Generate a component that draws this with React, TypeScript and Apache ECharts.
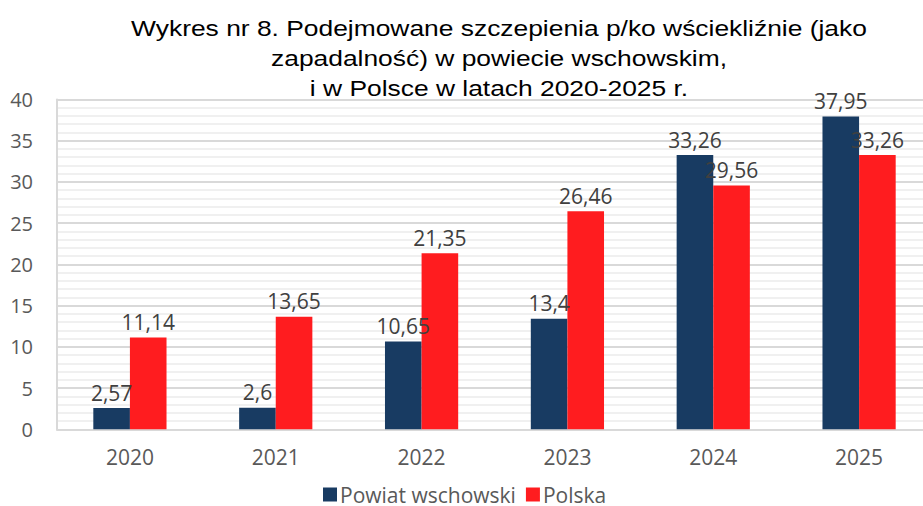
import React, { useEffect, useRef } from "react";
import * as echarts from "echarts";

const categories = ["2020", "2021", "2022", "2023", "2024", "2025"];
const powiatValues = [2.57, 2.6, 10.65, 13.4, 33.26, 37.95];
const polskaValues = [11.14, 13.65, 21.35, 26.46, 29.56, 33.26];
const seriesNames = ["Powiat wschowski", "Polska"];
const titleText =
  "Wykres nr 8. Podejmowane szczepienia p/ko wściekliźnie (jako\nzapadalność) w powiecie wschowskim,\ni w Polsce w latach 2020-2025 r.";

const fmt = (v: number) => String(v).replace(".", ",");

export default function App() {
  const ref = useRef<HTMLDivElement>(null);
  useEffect(() => {
    document.body.style.margin = "0";
    if (!ref.current) return;
    const chart = echarts.init(ref.current, null, { renderer: "svg" });
    const titleFont = "'Liberation Sans', Arial, sans-serif";
    const font = "'Open Sans', 'Liberation Sans', sans-serif";
    const label = {
      show: true,
      position: "top" as const,
      distance: 5,
      color: "#404040",
      fontSize: 21,
      fontFamily: font,
      formatter: (p: any) => fmt(p.value),
    };
    chart.setOption({
      animation: false,
      backgroundColor: "#ffffff",
      graphic: [
        {
          type: "text",
          x: 499,
          y: 13,
          scaleX: 1.2,
          scaleY: 1.0,
          z: 10,
          style: {
            text: titleText,
            textAlign: "center",
            textVerticalAlign: "top",
            font: `22px ${titleFont}`,
            fill: "#000000",
            lineHeight: 30,
          },
        },
      ],
      legend: {
        data: seriesNames,
        left: 323,
        top: 484,
        padding: 0,
        itemWidth: 14,
        itemHeight: 14,
        itemGap: 10,
        icon: "rect",
        textStyle: {
          fontFamily: font,
          fontSize: 21,
          lineHeight: 18,
          color: "#595959",
          padding: [0, 0, 0, -2],
        },
      },
      grid: { left: 57, right: 0, top: 99.5, bottom: 76.7, containLabel: false },
      xAxis: {
        type: "category",
        data: categories,
        axisLine: { show: true, lineStyle: { color: "#d9d9d9", width: 2 } },
        axisTick: { show: false },
        axisLabel: { color: "#595959", fontSize: 21, fontFamily: font, margin: 17 },
      },
      yAxis: {
        type: "value",
        min: 0,
        max: 40,
        interval: 5,
        axisLine: { show: true, lineStyle: { color: "#d9d9d9", width: 2 } },
        axisTick: { show: false },
        axisLabel: { color: "#595959", fontSize: 20, fontFamily: font, margin: 24 },
        splitLine: { show: true, lineStyle: { color: "#d9d9d9", width: 2 } },
        minorTick: { show: false, splitNumber: 5 },
        minorSplitLine: { show: true, lineStyle: { color: "#f0f0f0", width: 2 } },
      },
      series: [
        {
          name: seriesNames[0],
          type: "bar",
          data: powiatValues,
          barWidth: "25.1%",
          barGap: "0%",
          itemStyle: { color: "#183b62" },
          label,
          labelLayout: { moveOverlap: "shiftX" },
        },
        {
          name: seriesNames[1],
          type: "bar",
          data: polskaValues,
          barWidth: "25.1%",
          barGap: "0%",
          itemStyle: { color: "#ff1c1f" },
          label,
          labelLayout: { moveOverlap: "shiftX" },
        },
      ],
    });
    return () => chart.dispose();
  }, []);
  return (
    <div style={{ width: 923, height: 506, overflow: "hidden", position: "relative" }}>
      <div ref={ref} style={{ width: 932, height: 506 }} />
    </div>
  );
}
